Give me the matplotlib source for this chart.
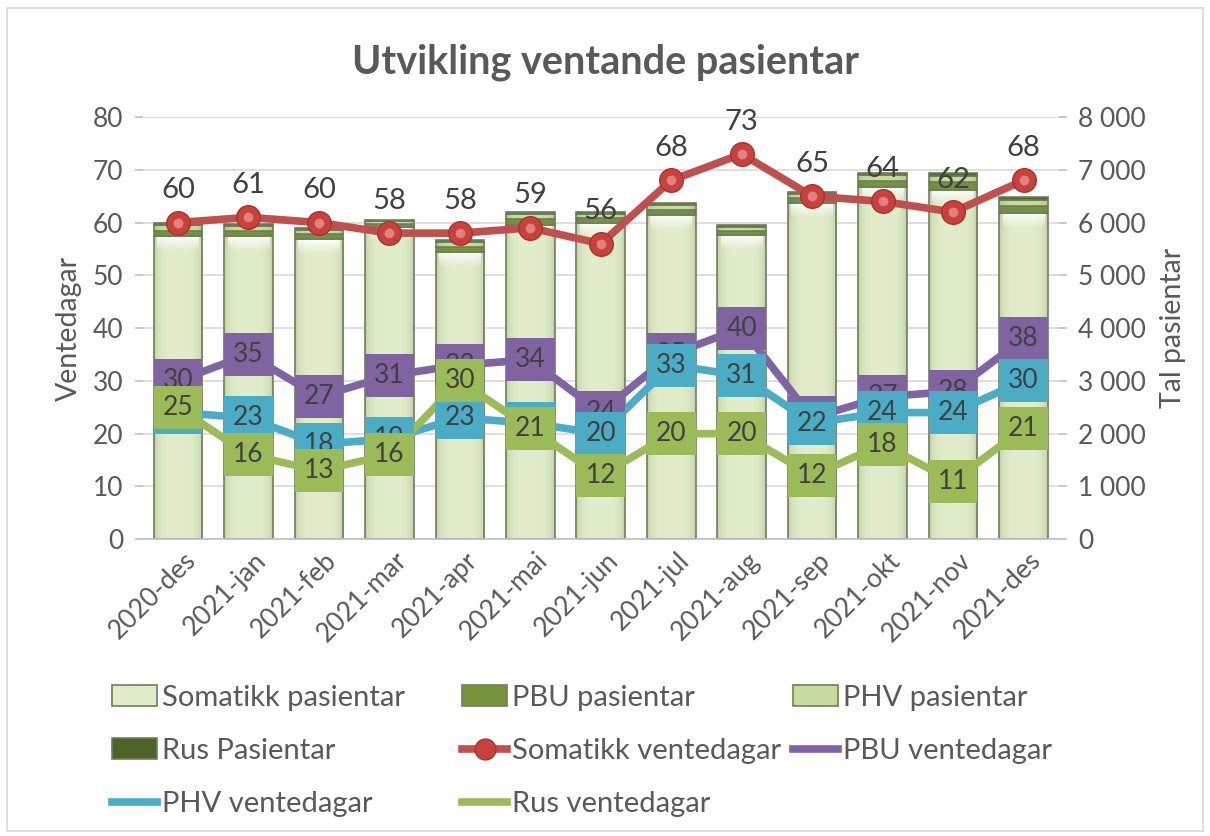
import matplotlib
matplotlib.use('Agg')
import matplotlib.pyplot as plt
from matplotlib.ticker import FuncFormatter, MultipleLocator
from matplotlib.lines import Line2D
from matplotlib.patches import Patch, Rectangle
from matplotlib.transforms import ScaledTranslation
import numpy as np

plt.rcParams['font.family'] = ['Lato', 'DejaVu Sans']

months = ['2020-des', '2021-jan', '2021-feb', '2021-mar', '2021-apr', '2021-mai',
          '2021-jun', '2021-jul', '2021-aug', '2021-sep', '2021-okt', '2021-nov', '2021-des']

# patients (right axis)
som_pas = [5740, 5740, 5690, 5910, 5440, 5950, 5990, 6140, 5760, 6370, 6670, 6620, 6180]
pbu_pas = [110, 100, 90, 60, 100, 110, 90, 100, 80, 90, 120, 140, 130]
phv_pas = [100, 95, 85, 55, 95, 100, 85, 95, 80, 90, 110, 130, 125]
rus_pas = [40, 35, 35, 25, 35, 40, 35, 35, 30, 30, 40, 50, 45]

# waiting days (left axis)
som_vent = [60, 61, 60, 58, 58, 59, 56, 68, 73, 65, 64, 62, 68]
pbu_vent = [30, 35, 27, 31, 33, 34, 24, 35, 40, 23, 27, 28, 38]
phv_vent = [24, 23, 18, 19, 23, 22, 20, 33, 31, 22, 24, 24, 30]
rus_vent = [25, 16, 13, 16, 30, 21, 12, 20, 20, 12, 18, 11, 21]

GRAY = '#595959'
TXT = '#404040'
C_SOM = '#C0504D'
C_PBU = '#8064A2'
C_PHV = '#4BACC6'
C_RUS = '#9BBB59'
B_SOM = '#E1EDCA'
B_PBU = '#77933C'
B_PHV = '#C9DCA0'
B_RUS = '#4F6228'
B_EDGE = '#6F7F5E'

fig = plt.figure(figsize=(12.1, 8.36), dpi=100)
fig.patches.append(Rectangle((0.006, 0.006), 0.988, 0.985, transform=fig.transFigure,
                             fill=False, edgecolor='#D9D9D9', linewidth=1.2))

axb = fig.add_axes([0.118, 0.355, 0.757, 0.505])   # bars, ticks on right
axl = axb.twinx()                                   # lines, ticks on left

x = np.arange(len(months))
w = 0.69
bottom = np.zeros(len(months))
bar_specs = [(som_pas, B_SOM, 'Somatikk pasientar'),
             (pbu_pas, B_PBU, 'PBU pasientar'),
             (phv_pas, B_PHV, 'PHV pasientar'),
             (rus_pas, B_RUS, 'Rus Pasientar')]
bar_handles = []
for vals, col, lab in bar_specs:
    vals = np.array(vals, dtype=float)
    axb.bar(x, vals, w, bottom=bottom, color=col, edgecolor=B_EDGE, linewidth=1.2, zorder=2)
    bottom += vals
    bar_handles.append(Patch(facecolor=col, edgecolor=B_EDGE, linewidth=1.2, label=lab))

# glossy shading on the bars (decorative)
hx = np.linspace(-1, 1, 64)
shade = np.zeros((1, 64, 4))
shade[..., :3] = np.array([0.35, 0.45, 0.25])
shade[0, :, 3] = 0.22 * np.abs(hx) ** 4
vgrad = np.zeros((32, 1, 4))
vgrad[..., :3] = 1.0
vgrad[:, 0, 3] = np.linspace(0.85, 0.0, 32)
for xi, sv in zip(x, som_pas):
    axb.imshow(shade, extent=(xi - w / 2, xi + w / 2, 0, bottom[xi]), aspect='auto',
               zorder=2.2, interpolation='bilinear')
    axb.imshow(vgrad, extent=(xi - w / 2 + 0.05, xi + w / 2 - 0.05, sv - 280, sv - 15),
               aspect='auto', zorder=2.3, interpolation='bilinear')

axb.set_ylim(0, 8000)
axb.set_xlim(-0.5, len(months) - 0.5)
axb.yaxis.set_major_locator(MultipleLocator(1000))
axb.yaxis.set_major_formatter(FuncFormatter(lambda v, p: f"{int(v):,}".replace(',', ' ')))
axb.yaxis.tick_right()
axb.yaxis.set_label_position('right')
axb.set_ylabel('Tal pasientar', fontsize=20.5, color=GRAY, labelpad=10)
axb.grid(axis='y', color='#D9D9D9', linewidth=1.2, zorder=0)
axb.set_axisbelow(True)

# lines
axl.set_ylim(0, 80)
axl.yaxis.set_major_locator(MultipleLocator(10))
axl.yaxis.tick_left()
axl.yaxis.set_label_position('left')
axl.set_ylabel('Ventedagar', fontsize=20.5, color=GRAY, labelpad=8)

lw = 5.5
axl.plot(x, som_vent, color=C_SOM, lw=lw, marker='o', markersize=17,
         markerfacecolor='#C8413D', markeredgecolor='#A8322F', markeredgewidth=1, zorder=3,
         solid_capstyle='round')
axl.plot(x, som_vent, linestyle='none', marker='o', markersize=7, markerfacecolor='#E58A87',
         markeredgewidth=0, zorder=3.1, alpha=0.9)
axl.plot(x, pbu_vent, color=C_PBU, lw=lw, zorder=3, solid_capstyle='round')
axl.plot(x, phv_vent, color=C_PHV, lw=lw, zorder=3, solid_capstyle='round')
axl.plot(x, rus_vent, color=C_RUS, lw=lw, zorder=3, solid_capstyle='round')

for xi, v in zip(x, som_vent):
    axl.annotate(f"{v}", (xi, v), xytext=(0, 14), textcoords='offset points',
                 ha='center', va='bottom', fontsize=21, color=TXT, zorder=6)

for vals, col, z in [(pbu_vent, C_PBU, 4), (phv_vent, C_PHV, 4.5), (rus_vent, C_RUS, 5)]:
    for xi, v in zip(x, vals):
        axl.text(xi, v, f"{v}", ha='center', va='center', fontsize=19, color=TXT, zorder=z,
                 bbox=dict(boxstyle='square,pad=0.34', facecolor=col, edgecolor='none'))

for a in (axb, axl):
    for s in a.spines.values():
        s.set_visible(False)
    a.tick_params(axis='y', colors=GRAY, labelsize=19, length=6, width=1.2, color='#BFBFBF')
axl.tick_params(axis='y', labelcolor=GRAY, pad=8)
axb.tick_params(axis='y', labelcolor=GRAY, pad=8)
axb.spines['bottom'].set_visible(True)
axb.spines['bottom'].set_color('#BFBFBF')
axb.spines['bottom'].set_linewidth(1.2)

axb.set_xticks(x)
axb.set_xticklabels(months, rotation=45, ha='right', va='center', rotation_mode='anchor',
                    fontsize=19, color=GRAY)
axb.tick_params(axis='x', length=0, pad=8)
off = ScaledTranslation(14 / 100, -6 / 100, fig.dpi_scale_trans)
for lab in axb.get_xticklabels():
    lab.set_transform(lab.get_transform() + off)

fig.text(0.5, 1 - 62 / 836, 'Utvikling ventande pasientar', ha='center', va='center',
         fontsize=28.5, fontweight='bold', color=GRAY)

# legend handles
h_som_v = Line2D([], [], color=C_SOM, lw=lw, marker='o', markersize=15,
                 markerfacecolor='#C8413D', markeredgecolor='#A8322F')
h_pbu_v = Line2D([], [], color=C_PBU, lw=lw)
h_phv_v = Line2D([], [], color=C_PHV, lw=lw)
h_rus_v = Line2D([], [], color=C_RUS, lw=lw)

cols = [
    ([bar_handles[0], bar_handles[3], h_phv_v],
     ['Somatikk pasientar', 'Rus Pasientar', 'PHV ventedagar'], 0.0926),
    ([bar_handles[1], h_som_v, h_rus_v],
     ['PBU pasientar', 'Somatikk ventedagar', 'Rus ventedagar'], 0.382),
    ([bar_handles[2], h_pbu_v],
     ['PHV pasientar', 'PBU ventedagar'], 0.655),
]
for hs, ls, xpos in cols:
    fig.legend(hs, ls, loc='upper left', bbox_to_anchor=(xpos, 0.181), frameon=False,
               fontsize=21, labelcolor=GRAY, handlelength=1.55, handleheight=0.7,
               handletextpad=0.17, labelspacing=0.93, borderaxespad=0, borderpad=0)

fig.savefig('out.png', dpi=100, facecolor='white')
